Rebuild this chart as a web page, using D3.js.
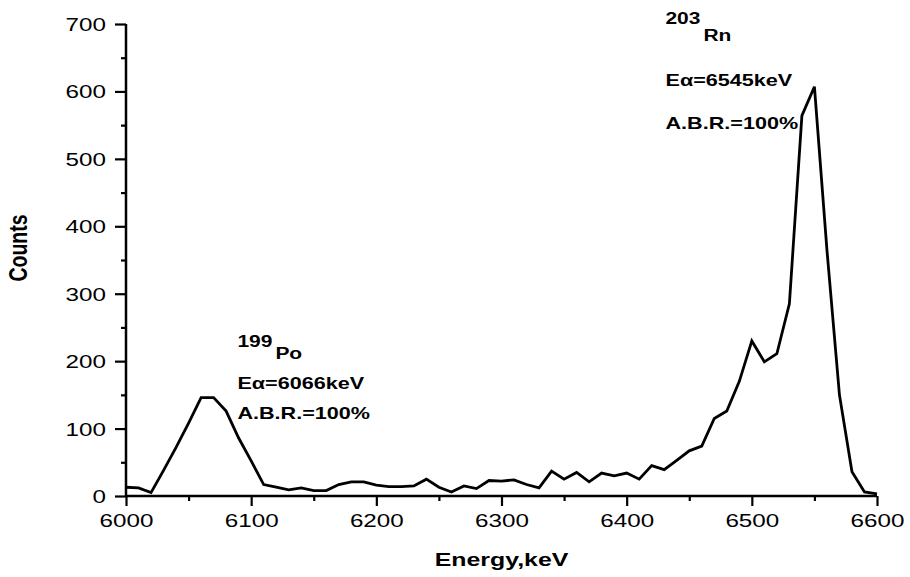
<!DOCTYPE html>
<html>
<head>
<meta charset="utf-8">
<script src="https://cdn.jsdelivr.net/npm/d3@7"></script>
<style>
  html, body { margin: 0; padding: 0; background: #fff; }
  svg { display: block; }
  text { font-family: "Liberation Sans", Arial, sans-serif; fill: #000; }
</style>
</head>
<body>
<svg id="chart" width="910" height="577"></svg>
<script>
// ---- data ----
const energies = [6000,6010,6020,6030,6040,6050,6060,6070,6080,6090,
  6100,6110,6120,6130,6140,6150,6160,6170,6180,6190,
  6200,6210,6220,6230,6240,6250,6260,6270,6280,6290,
  6300,6310,6320,6330,6340,6350,6360,6370,6380,6390,
  6400,6410,6420,6430,6440,6450,6460,6470,6480,6490,
  6500,6510,6520,6530,6540,6550,6560,6570,6580,6590,6600];
const counts = [13,12,5,38,72,108,146,146,126,86,
  52,17,13,9,12,8,8,17,21,21,
  16,14,14,15,25,13,6,15,11,23,
  22,24,17,12,37,25,35,21,34,30,
  34,25,45,39,53,67,74,115,126,170,
  230,199,211,285,564,607,365,150,36,6,3];
const xMajor = [6000,6100,6200,6300,6400,6500,6600];
const xMinor = [6050,6150,6250,6350,6450,6550];
const yMajor = [0,100,200,300,400,500,600,700];
const yMinor = [50,150,250,350,450,550,650];
const labels = [
  {iso:"199", el:"Po", e:"E\u03b1=6066keV", abr:"A.B.R.=100%", x:6089},
  {iso:"203", el:"Rn", e:"E\u03b1=6545keV", abr:"A.B.R.=100%", x:6431}
];

// ---- layout ----
const SX = 1.31; // horizontal stretch of text glyphs
const svg = d3.select("#chart");
const x = d3.scaleLinear().domain([6000, 6600]).range([126, 877]);
const y = d3.scaleLinear().domain([0, 700]).range([496, 24]);

// y axis
const gy = svg.append("g").attr("transform", "translate(126,0)");
gy.call(d3.axisLeft(y).tickValues(yMajor).tickSize(11).tickFormat(d3.format("d")));
gy.append("g").call(d3.axisLeft(y).tickValues(yMinor).tickSize(5).tickFormat(""))
  .select(".domain").remove();
gy.selectAll(".domain").attr("d", "M0,24V496").attr("stroke-width", 2.5);
gy.selectAll(".tick line").attr("stroke-width", 2.2);
gy.selectAll(".tick text")
  .attr("x", null).attr("dy", "0.35em")
  .attr("transform", `translate(-20,0) scale(${SX},1)`)
  .style("font-size", "18.5px").style("font-family", "Liberation Sans, Arial, sans-serif");

// x axis
const gx = svg.append("g").attr("transform", "translate(0,496)");
gx.call(d3.axisBottom(x).tickValues(xMajor).tickSize(10).tickFormat(d3.format("d")));
gx.append("g").call(d3.axisBottom(x).tickValues(xMinor).tickSize(5).tickFormat(""))
  .select(".domain").remove();
gx.selectAll(".domain").attr("d", "M126,0H877").attr("stroke-width", 2.5);
gx.selectAll(".tick line").attr("stroke-width", 2.2);
gx.selectAll(".tick text")
  .attr("y", null).attr("dy", null)
  .attr("transform", `translate(0,30.5) scale(${SX},1)`)
  .style("font-size", "18.5px").style("font-family", "Liberation Sans, Arial, sans-serif");

// line
const line = d3.line().x((d, i) => x(energies[i])).y(d => y(d));
svg.append("path").datum(counts)
  .attr("d", line)
  .attr("fill", "none").attr("stroke", "#000")
  .attr("stroke-width", 2.8).attr("stroke-linejoin", "miter");

// axis titles
svg.append("text")
  .attr("transform", `translate(501.5,565.5) scale(${SX},1)`)
  .attr("text-anchor", "middle").style("font-weight", "bold").style("font-size", "19px")
  .text("Energy,keV");
svg.append("text")
  .attr("transform", `translate(27,248) scale(${SX},1) rotate(-90)`)
  .attr("text-anchor", "middle").style("font-weight", "bold").style("font-size", "19.5px")
  .text("Counts");

// annotations
const ann = [
  {iso:347.3, el:359, e:389.3, abr:419.3},
  {iso:24, el:40.7, e:85.7, abr:129.3}
];
labels.forEach((L, i) => {
  const x0 = x(L.x);
  const g = svg.append("g").style("font-weight", "bold");
  const a = ann[i];
  g.append("text").attr("transform", `translate(${x0},${a.iso}) scale(${SX},1)`)
    .style("font-size", "16px").text(L.iso);
  g.append("text").attr("transform", `translate(${x0 + 38},${a.el}) scale(${SX},1)`)
    .style("font-size", "16px").text(L.el);
  g.append("text").attr("transform", `translate(${x0},${a.e}) scale(${SX},1)`)
    .style("font-size", "16.5px").text(L.e);
  g.append("text").attr("transform", `translate(${x0},${a.abr}) scale(${SX},1)`)
    .style("font-size", "16.5px").text(L.abr);
});
</script>
</body>
</html>
